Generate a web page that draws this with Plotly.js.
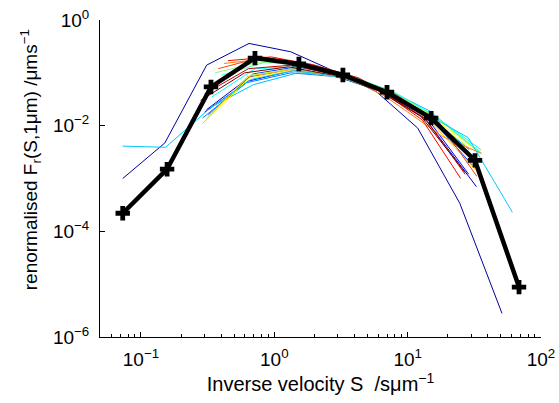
<!DOCTYPE html>
<html>
<head>
<meta charset="utf-8">
<script src="https://cdn.plot.ly/plotly-3.0.1.min.js"></script>
<style>html,body{margin:0;padding:0;background:#fff;}#chart{width:559px;height:403px;}</style>
</head>
<body>
<div id="chart"></div>
<script>
// ---- data ----
const S_mean = [0.073, 0.157, 0.335, 0.716, 1.53, 3.27, 7.0, 15.0, 32.0, 68.4];
const F_mean = [2.2e-4, 1.5e-3, 0.054, 0.19, 0.147, 0.091, 0.043, 0.0139, 0.0022, 8.8e-6];

const S_navy = [0.073, 0.151, 0.311, 0.646, 1.33, 2.75, 5.83, 11.9, 24.6, 51];
const F_navy = [1.0e-3, 4.7e-3, 0.14, 0.36, 0.25, 0.11, 0.044, 0.009, 3.4e-4, 2.8e-6];

const S_cyan = [0.073, 0.153, 0.32, 0.67, 1.41, 2.96, 6.2, 13.1, 28.5, 61];
const F_cyan = [4.1e-3, 3.9e-3, 0.02, 0.075, 0.11, 0.085, 0.047, 0.018, 0.0059, 2.3e-4];

const S_c01 = [0.31, 0.66, 1.41, 3.0, 6.4, 13.7, 32.8];
const F_c01 = [0.02, 0.085, 0.12, 0.086, 0.045, 0.013, 7e-4];
const S_c02 = [0.3, 0.64, 1.37, 2.93, 6.3, 13.4, 28.7];
const F_c02 = [0.018, 0.07, 0.11, 0.087, 0.049, 0.016, 0.0012];
const S_c03 = [0.32, 0.69, 1.47, 3.15, 6.7, 14.4, 30.5];
const F_c03 = [0.016, 0.095, 0.13, 0.09, 0.045, 0.015, 0.0018];
const S_c04 = [0.29, 0.62, 1.33, 2.85, 6.1, 13.0, 29];
const F_c04 = [0.014, 0.065, 0.1, 0.085, 0.05, 0.019, 0.0035];
const S_c05 = [0.33, 0.7, 1.5, 3.2, 6.85, 14.6, 35];
const F_c05 = [0.022, 0.06, 0.1, 0.088, 0.05, 0.019, 0.003];
const S_c06 = [0.34, 0.72, 1.55, 3.3, 7.0, 15.0, 35.5];
const F_c06 = [0.035, 0.12, 0.13, 0.09, 0.048, 0.017, 0.0035];
const S_c07 = [0.4, 0.86, 1.84, 3.93, 8.4, 18, 36];
const F_c07 = [0.09, 0.16, 0.15, 0.085, 0.04, 0.012, 0.003];
const S_c08 = [0.36, 0.77, 1.65, 3.5, 7.5, 16, 34];
const F_c08 = [0.1, 0.16, 0.14, 0.09, 0.043, 0.015, 0.0032];
const S_c09 = [0.31, 0.66, 1.42, 3.05, 6.5, 14, 30];
const F_c09 = [0.014, 0.09, 0.12, 0.087, 0.047, 0.016, 0.0035];
const S_c10 = [0.3, 0.65, 1.38, 2.96, 6.35, 13.6, 31];
const F_c10 = [0.012, 0.08, 0.11, 0.085, 0.05, 0.018, 0.0038];
const S_c11 = [0.29, 0.63, 1.35, 2.9, 6.2, 13.3, 33];
const F_c11 = [0.011, 0.085, 0.115, 0.086, 0.048, 0.016, 0.0014];
const S_c12 = [0.42, 0.9, 1.93, 3.5, 6.9, 18.3, 35.6];
const F_c12 = [0.15, 0.19, 0.14, 0.085, 0.035, 0.0062, 0.003];
const S_c13 = [0.38, 0.82, 1.75, 3.75, 8.0, 17, 33];
const F_c13 = [0.12, 0.2, 0.15, 0.085, 0.04, 0.012, 0.0011];
const S_c14 = [0.45, 0.95, 2.0, 4.3, 6.0, 12.9, 25];
const F_c14 = [0.17, 0.2, 0.14, 0.08, 0.05, 0.0128, 0.001];
const S_c15 = [0.3, 0.64, 1.37, 2.93, 6.3, 13.4, 27];
const F_c15 = [0.04, 0.12, 0.14, 0.09, 0.045, 0.014, 0.0012];
const S_c16 = [0.28, 0.6, 1.28, 2.74, 5.9, 12.6, 27];
const F_c16 = [0.03, 0.1, 0.13, 0.09, 0.047, 0.015, 0.0013];

const xTickVals = [0.1, 1, 10, 100];
const xTickText = ['10<sup>−1</sup>', '10<sup>0</sup>', '10<sup>1</sup>', '10<sup>2</sup>'];
const xMinorVals = [0.05,0.06,0.07,0.08,0.09,0.2,0.3,0.4,0.5,0.6,0.7,0.8,0.9,2,3,4,5,6,7,8,9,20,30,40,50,60,70,80,90];
const yTickVals = [1e-6, 1e-4, 1e-2, 1];
const yTickText = ['10<sup>−6</sup>', '10<sup>−4</sup>', '10<sup>−2</sup>', '10<sup>0</sup>'];
const xTitle = 'Inverse velocity S&nbsp;&nbsp;/sμm<sup>−1</sup>';
const yTitle = 'renormalised F<sub>r</sub>(S,1μm) /μms<sup>−1</sup>';

// ---- styling ----
const jet = ['rgb(0,0,191)','rgb(0,0,255)','rgb(0,64,255)','rgb(0,128,255)','rgb(0,191,255)','rgb(0,255,255)',
             'rgb(64,255,191)','rgb(128,255,128)','rgb(191,255,64)','rgb(255,255,0)','rgb(255,191,0)',
             'rgb(255,128,0)','rgb(255,64,0)','rgb(255,0,0)','rgb(191,0,0)','rgb(128,0,0)'];
const colSeries = [
  [S_c01,F_c01],[S_c02,F_c02],[S_c03,F_c03],[S_c04,F_c04],[S_c05,F_c05],[S_c06,F_c06],
  [S_c07,F_c07],[S_c08,F_c08],[S_c09,F_c09],[S_c10,F_c10],[S_c11,F_c11],[S_c12,F_c12],
  [S_c13,F_c13],[S_c14,F_c14],[S_c15,F_c15],[S_c16,F_c16]
];

const traces = [];
traces.push({x:S_navy, y:F_navy, mode:'lines', line:{color:'rgb(0,0,160)', width:1}, hoverinfo:'skip'});
colSeries.forEach((s,i)=>{
  traces.push({x:s[0], y:s[1], mode:'lines', line:{color:jet[i], width:1}, hoverinfo:'skip'});
});
traces.push({x:S_cyan, y:F_cyan, mode:'lines', line:{color:'rgb(0,200,255)', width:1}, hoverinfo:'skip'});
traces.push({x:S_mean, y:F_mean, mode:'lines+markers', line:{color:'#000', width:4.5},
  marker:{symbol:'cross', size:12, color:'#000'}, hoverinfo:'skip'});

const FONT = 'Liberation Sans, Arial, Helvetica, sans-serif';
const layout = {
  width:559, height:403,
  margin:{l:100, r:18, t:20, b:66, pad:0},
  paper_bgcolor:'#fff', plot_bgcolor:'#fff',
  showlegend:false,
  font:{family:FONT, size:19, color:'#000'},
  xaxis:{
    type:'log', range:[Math.log10(0.0493), 2],
    tickmode:'array', tickvals:xTickVals, ticktext:xTickText,
    ticks:'inside', ticklen:5, tickwidth:1, tickcolor:'#000',
    minor:{tickmode:'array', tickvals:xMinorVals, ticks:'inside', ticklen:3, tickwidth:1, tickcolor:'#000', showgrid:false},
    showline:true, linecolor:'#000', linewidth:1, mirror:false,
    showgrid:false, zeroline:false,
    tickfont:{size:19}, ticklabelstandoff:5,
    title:{text:xTitle, font:{size:20}, standoff:4}
  },
  yaxis:{
    type:'log', range:[-6, 0],
    tickmode:'array', tickvals:yTickVals, ticktext:yTickText,
    ticks:'inside', ticklen:5, tickwidth:1, tickcolor:'#000',
    showline:true, linecolor:'#000', linewidth:1, mirror:false,
    showgrid:false, zeroline:false,
    tickfont:{size:19}, ticklabelstandoff:6
  },
  annotations:[{
    text:yTitle, xref:'paper', yref:'paper', x:-0.157, y:0.56,
    xanchor:'center', yanchor:'middle', textangle:-90, showarrow:false,
    font:{family:FONT, size:19, color:'#000'}
  }]
};

Plotly.newPlot('chart', traces, layout, {staticPlot:true, displayModeBar:false});
</script>
</body>
</html>
